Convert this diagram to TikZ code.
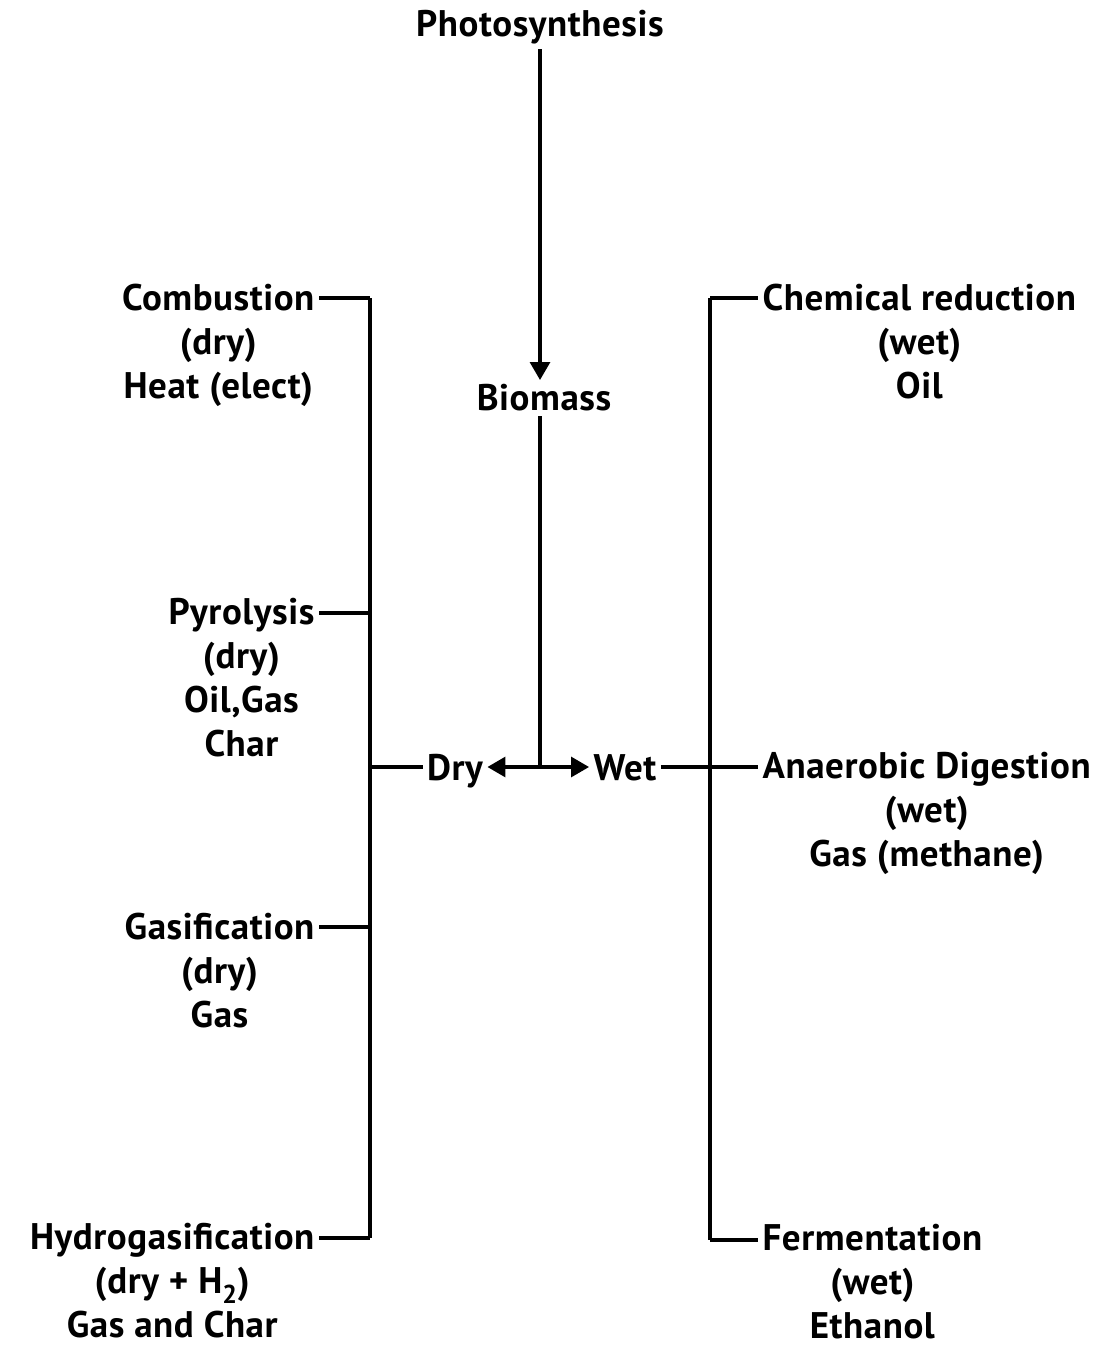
\documentclass[tikz,border=0pt]{standalone}
\usepackage{fontspec}
\setmainfont{PT Sans}[LetterSpace=1.5]
\usetikzlibrary{arrows.meta, positioning}

\begin{document}
\begin{tikzpicture}[x=1pt, y=-1pt, line width=3.2pt,
  lbl/.style={font=\bfseries\fontsize{37}{44}\selectfont, inner sep=3pt, align=center},
  tip/.style={-{Triangle[length=18pt,width=20pt]}}]
\useasboundingbox (0,0) rectangle (1095,1348);
% top of the chain
\node[lbl, anchor=north] (photo) at (540,6) {Photosynthesis};
\node[lbl, anchor=north] (bio) at (544,380) {Biomass};
\node[lbl, anchor=base] (dry) at (455,780) {Dry};
\node[lbl, anchor=base] (wet) at (625,780) {Wet};
% dry routes
\node[lbl, anchor=north east] (comb) at (319,279) {Combustion\\(dry)\\Heat (elect)};
\node[lbl, anchor=north east] (pyro) at (319,594) {Pyrolysis\\(dry)\\Oil,Gas\\Char};
\node[lbl, anchor=north east] (gasi) at (319,908) {Gasification\\(dry)\\Gas};
\node[lbl, anchor=north east] (hydro) at (319,1219) {Hydrogasification\\(dry + H\textsubscript{2})\\Gas and Char};
% wet routes
\node[lbl, anchor=north west] (chem) at (758,279) {Chemical reduction\\(wet)\\Oil};
\node[lbl, anchor=north west] (anae) at (758,748) {Anaerobic Digestion\\(wet)\\Gas (methane)};
\node[lbl, anchor=north west] (ferm) at (758,1220) {Fermentation\\(wet)\\Ethanol};
% bars
\coordinate (lt) at (370,298);
\coordinate (lp) at (370,613);
\coordinate (lm) at (370,767);
\coordinate (lg) at (370,927);
\coordinate (lb) at (370,1238);
\coordinate (rt) at (710,298);
\coordinate (rm) at (710,767);
\coordinate (rb) at (710,1240);
\coordinate (split) at (540,767);
\draw[tip] (photo.south -| split) -- (split |- bio.north);
\draw (split |- bio.south) -- (split);
\draw[tip] (split) -- (dry.east |- split);
\draw[tip] (split) -- (wet.west |- split);
\draw (lt) -- (lb);
\draw (rt) -- (rb);
\draw (comb.east |- lt) -- (lt);
\draw (pyro.east |- lp) -- (lp);
\draw (gasi.east |- lg) -- (lg);
\draw (hydro.east |- lb) -- (lb);
\draw (dry.west |- lm) -- (lm);
\draw (wet.east |- rm) -- (anae.west |- rm);
\draw (rt) -- (chem.west |- rt);
\draw (rb) -- (ferm.west |- rb);
\end{tikzpicture}
\end{document}
